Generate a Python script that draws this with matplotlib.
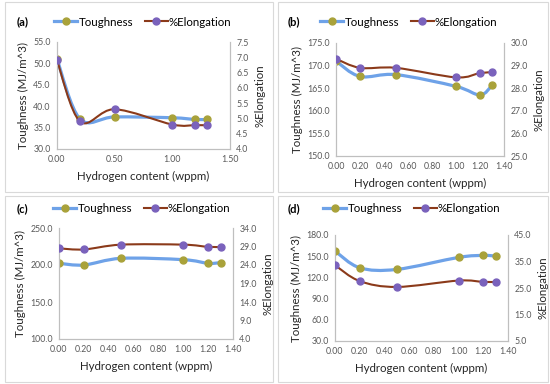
import matplotlib
matplotlib.use("Agg")
import matplotlib.pyplot as plt
import numpy as np
from matplotlib.path import Path
from matplotlib.patches import PathPatch, Rectangle
from matplotlib.lines import Line2D

plt.rcParams['font.family'] = ['Lato', 'DejaVu Sans']

# data
hydrogen = [0.0, 0.2, 0.5, 1.0, 1.2, 1.3]

toughness_a = [51.0, 37.0, 37.5, 37.3, 36.9, 36.9]
elong_a = [6.90, 4.90, 5.30, 4.80, 4.78, 4.78]

toughness_b = [171.0, 167.6, 168.0, 165.4, 163.5, 165.6]
elong_b = [29.3, 28.9, 28.9, 28.48, 28.67, 28.7]

toughness_c = [202.3, 200.0, 209.0, 207.2, 202.3, 203.2]
elong_c = [28.5, 28.2, 29.5, 29.5, 28.9, 28.9]

toughness_d = [157.3, 133.6, 131.3, 148.3, 151.1, 150.2]
elong_d = [33.6, 27.6, 25.4, 27.8, 27.3, 27.3]

panel_labels = ['(a)', '(b)', '(c)', '(d)']

# colours
TOUGH_LINE = '#6EA2E8'
TOUGH_MARK = '#A9A23A'
ELONG_LINE = '#8B3A1A'
ELONG_MARK = '#7A62BC'
TICK_COL = '#595959'
SPINE_COL = '#BFBFBF'

W, H = 550, 384
fig = plt.figure(figsize=(W / 100, H / 100), dpi=100)
fig.patch.set_facecolor('white')


def fig_rect(x0, y0, x1, y1):
    # pixel box (top-left origin) -> figure fraction
    return [x0 / W, 1 - y1 / H, (x1 - x0) / W, (y1 - y0) / H]


def smooth(ax, x, y, color, lw):
    # excel-like smoothed line drawn as bezier segments
    pts = np.column_stack([x, y]).astype(float)
    verts = [pts[0]]
    codes = [Path.MOVETO]
    n = len(pts)
    for i in range(n - 1):
        p0 = pts[i - 1] if i > 0 else pts[i]
        p1 = pts[i]
        p2 = pts[i + 1]
        p3 = pts[i + 2] if i + 2 < n else pts[i + 1]
        c1 = p1 + (p2 - p0) / 6
        c2 = p2 - (p3 - p1) / 6
        verts += [c1, c2, p2]
        codes += [Path.CURVE4] * 3
    ax.add_patch(PathPatch(Path(verts, codes), fill=False, edgecolor=color,
                           lw=lw, capstyle='round', joinstyle='round', zorder=2))


panels = [
    dict(box=(5, 2, 273, 192), ax=(57, 42, 230, 149), tough=toughness_a, elong=elong_a,
         xlim=(0, 1.5), xstep=0.5, ylim=(30, 55), ystep=5, rlim=(4.0, 7.5), rstep=0.5,
         leg=(143, 22), lab=(17, 22)),
    dict(box=(278, 2, 548, 192), ax=(336, 43, 504, 156), tough=toughness_b, elong=elong_b,
         xlim=(0, 1.4), xstep=0.2, ylim=(150, 175), ystep=5, rlim=(25, 30), rstep=1,
         leg=(409, 22), lab=(288, 22)),
    dict(box=(5, 196, 273, 382), ax=(59, 228, 233, 339), tough=toughness_c, elong=elong_c,
         xlim=(0, 1.4), xstep=0.2, ylim=(100, 250), ystep=50, rlim=(4, 34), rstep=5,
         leg=(142, 209), lab=(17, 209)),
    dict(box=(278, 196, 548, 382), ax=(335, 235, 508, 341), tough=toughness_d, elong=elong_d,
         xlim=(0, 1.4), xstep=0.2, ylim=(30, 180), ystep=30, rlim=(5, 45), rstep=10,
         leg=(412, 209), lab=(288, 209)),
]

for p, label in zip(panels, panel_labels):
    bx = p['box']
    fig.patches.append(Rectangle((bx[0] / W, 1 - bx[3] / H), (bx[2] - bx[0]) / W,
                                 (bx[3] - bx[1]) / H, transform=fig.transFigure,
                                 fill=False, edgecolor='#D9D9D9', lw=0.8))

    ax = fig.add_axes(fig_rect(*p['ax']))
    ax2 = ax.twinx()

    smooth(ax, hydrogen, p['tough'], TOUGH_LINE, 2.3)
    ax.plot(hydrogen, p['tough'], 'o', color=TOUGH_MARK, ms=5, zorder=3)
    smooth(ax2, hydrogen, p['elong'], ELONG_LINE, 1.5)
    ax2.plot(hydrogen, p['elong'], 'o', color=ELONG_MARK, ms=5, zorder=3)

    ax.set_xlim(*p['xlim'])
    ax.set_ylim(*p['ylim'])
    ax2.set_ylim(*p['rlim'])
    ax.set_xticks(np.arange(p['xlim'][0], p['xlim'][1] + 1e-9, p['xstep']))
    ax.set_yticks(np.arange(p['ylim'][0], p['ylim'][1] + 1e-9, p['ystep']))
    ax2.set_yticks(np.arange(p['rlim'][0], p['rlim'][1] + 1e-9, p['rstep']))
    ax.xaxis.set_major_formatter('{x:.2f}')
    ax.yaxis.set_major_formatter('{x:.1f}')
    ax2.yaxis.set_major_formatter('{x:.1f}')

    for a in (ax, ax2):
        a.tick_params(length=0, labelsize=6.3, labelcolor=TICK_COL, pad=4.5)
        a.spines['top'].set_visible(False)
        for s in ('left', 'right', 'bottom'):
            a.spines[s].set_color(SPINE_COL)
            a.spines[s].set_linewidth(0.8)

    ax.set_xlabel('Hydrogen content (wppm)', fontsize=8.3, color='#262626', labelpad=5)
    ax.set_ylabel('Toughness (MJ/m^3)', fontsize=8.3, color='#262626', labelpad=3)
    ax2.set_ylabel('%Elongation', fontsize=8.3, color='#262626', labelpad=4)

    handles = [
        Line2D([], [], color=TOUGH_LINE, lw=2.3, marker='o', ms=5,
               mfc=TOUGH_MARK, mec=TOUGH_MARK),
        Line2D([], [], color=ELONG_LINE, lw=1.5, marker='o', ms=5,
               mfc=ELONG_MARK, mec=ELONG_MARK),
    ]
    fig.legend(handles, ['Toughness', '%Elongation'], loc='center',
               bbox_to_anchor=(p['leg'][0] / W, 1 - p['leg'][1] / H), ncol=2,
               frameon=False, fontsize=8.3, handlelength=2.0, handletextpad=0.1,
               columnspacing=1.0, numpoints=1)
    fig.text(p['lab'][0] / W, 1 - p['lab'][1] / H, label, fontsize=8,
             fontweight='bold', va='center', ha='left')

fig.savefig('out.png', dpi=100)
